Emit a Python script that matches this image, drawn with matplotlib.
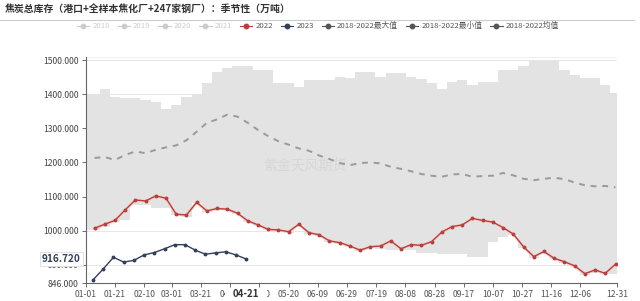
import datetime
import numpy as np
import matplotlib
matplotlib.use("Agg")
import matplotlib.pyplot as plt
from matplotlib.lines import Line2D
from matplotlib.patches import Rectangle
from matplotlib.transforms import blended_transform_factory

plt.rcParams['font.family'] = ['Noto Sans CJK SC', 'DejaVu Sans']

# weekly observations, day-of-year positions
days_2022 = [6 + 7 * k for k in range(52)]
days_2023 = [5 + 7 * k for k in range(16)]

v_2022 = [1007, 1019, 1030, 1061, 1090, 1087, 1102, 1095, 1048, 1046, 1083, 1058, 1065,
          1063, 1051, 1029, 1017, 1004, 1002, 997, 1019, 994, 988, 970, 965, 955,
          943, 953, 955, 970, 947, 959, 957, 968, 996, 1012, 1017, 1036, 1030, 1025,
          1009, 990, 953, 924, 939, 919, 909, 897, 874, 885, 875, 902]
v_2023 = [856, 888, 922, 908, 913, 929, 936, 947, 959, 959, 943, 931, 935, 938, 929, 916.72]

v_max = [1400, 1414, 1393, 1388, 1388, 1383, 1378, 1356, 1368, 1393, 1400, 1432, 1466,
         1476, 1483, 1483, 1471, 1471, 1432, 1432, 1422, 1441, 1441, 1441, 1451, 1446,
         1464, 1464, 1451, 1461, 1461, 1451, 1444, 1432, 1414, 1437, 1441, 1427, 1437,
         1437, 1471, 1471, 1483, 1497, 1497, 1497, 1471, 1456, 1446, 1446, 1427, 1402]
v_min = [1003, 1010, 1025, 1031, 1075, 1075, 1066, 1066, 1046, 1040, 1080, 1055, 1062,
         1060, 1048, 1026, 1014, 1001, 999, 994, 1016, 991, 985, 967, 962, 952,
         940, 950, 945, 944, 944, 944, 935, 935, 932, 932, 932, 924, 924, 968,
         982, 987, 950, 921, 936, 916, 906, 894, 871, 875, 872, 872]
v_avg = [1213, 1216, 1207, 1222, 1232, 1227, 1237, 1244, 1250, 1265, 1290, 1316, 1326,
         1340, 1334, 1316, 1295, 1277, 1262, 1252, 1241, 1234, 1220, 1210, 1198, 1192,
         1198, 1200, 1197, 1187, 1181, 1174, 1166, 1161, 1158, 1165, 1166, 1158, 1160,
         1161, 1169, 1162, 1152, 1148, 1152, 1155, 1151, 1141, 1133, 1130, 1131, 1127]

tick_days = [0, 20, 40, 59, 79, 99, 119, 139, 159, 179, 199, 219, 239, 259, 279, 299, 319, 339, 364]
y_ticks = [846, 900, 1000, 1100, 1200, 1300, 1400, 1500]

title = "焦炭总库存（港口+全样本焦化厂+247家钢厂）：季节性（万吨）"
legend_names = ["2018", "2019", "2020", "2021", "2022", "2023",
                "2018-2022最大值", "2018-2022最小值", "2018-2022均值"]

c2022 = '#b5403c'
c2023 = '#34405a'

fig = plt.figure(figsize=(6.4, 3.01), dpi=100)
ax = fig.add_axes([0.134, 0.059, 0.830, 0.753])

# band of min/max, stepped
bx = [0] + days_2022 + [364]
bmax = [v_max[0]] + v_max + [v_max[-1]]
bmin = [v_min[0]] + v_min + [v_min[-1]]
ax.fill_between(bx, bmin, bmax, step='mid', color='#e3e3e3', lw=0, zorder=1)

ax.plot(days_2022, v_avg, color='#9a9a9a', lw=1.4, ls=(0, (3, 3)), zorder=3)
ax.plot(days_2022, v_2022, color='#f5d2d0', lw=2.2, zorder=3, solid_capstyle='round')
ax.plot(days_2022, v_2022, color=c2022, lw=1.0, marker='o', ms=1.8, zorder=4)
ax.plot(days_2023, v_2023, color=c2023, lw=1.0, marker='o', ms=1.8, zorder=4)

ax.set_xlim(0, 364)
ax.set_ylim(846, 1510)
ax.set_yticks(y_ticks)
ax.set_yticklabels([f"{v:.3f}" for v in y_ticks])
base = datetime.date(2023, 1, 1)
ax.set_xticks(tick_days)
ax.set_xticklabels([(base + datetime.timedelta(days=d)).strftime('%m-%d') for d in tick_days])
ax.tick_params(axis='both', labelsize=6.2, colors='#555555', length=3, width=0.6, pad=2)
ax.tick_params(axis='y', labelcolor='#444444')
ax.grid(axis='y', color='#e6e6e6', lw=0.7, zorder=0)
ax.set_axisbelow(True)
for s in ['top', 'right']:
    ax.spines[s].set_visible(False)
ax.spines['left'].set_color('#666666')
ax.spines['bottom'].set_color('#666666')
ax.spines['left'].set_linewidth(0.8)
ax.spines['bottom'].set_linewidth(0.8)
ax.axhline(1510, color='#eeeeee', lw=0.7, zorder=0)

# highlighted x label (white box hides the neighbouring labels partly)
trx = blended_transform_factory(ax.transData, ax.transAxes)
ax.add_patch(Rectangle((95.5, -0.085), 29, 0.06, transform=trx, fc='white', ec='none',
                       clip_on=False, zorder=9))
ax.text(110, -0.026, "04-21", transform=trx, ha='center', va='top', fontsize=7,
        fontweight='bold', color='#333333', zorder=10, clip_on=False)
ax.text(-3.5, v_2023[-1], f"{v_2023[-1]:.3f}", ha='right', va='center', fontsize=7.2,
        fontweight='bold', color=c2023, clip_on=False, zorder=10,
        bbox=dict(boxstyle='square,pad=0.2', fc='white', ec='#dddddd', lw=0.6))

ax.text(150, 1190, "紫金天风期货", ha='center', va='center', fontsize=10, color='#d4d4d4',
        alpha=0.8, zorder=2)

fig.text(0.008, 0.967, title, ha='left', va='center', fontsize=7.1, fontweight='bold',
         color='#333333')
fig.add_artist(Line2D([0.0, 0.99], [0.935, 0.935], transform=fig.transFigure,
                      color='#cccccc', lw=0.8))

leg_colors = ['#cccccc'] * 4 + [c2022, c2023] + ['#555555'] * 3
handles = [Line2D([0], [0], color=c, marker='o', ms=3.2, lw=0.8) for c in leg_colors]
leg = fig.legend(handles, legend_names, loc='center left', bbox_to_anchor=(0.115, 0.913),
                 ncol=9, frameon=False, fontsize=5.6, handlelength=1.6, handletextpad=0.4,
                 columnspacing=1.0, borderaxespad=0)
for t, c in zip(leg.get_texts(), leg_colors):
    t.set_color('#cccccc' if c == '#cccccc' else '#555555')

fig.savefig('out.png', dpi=100)
